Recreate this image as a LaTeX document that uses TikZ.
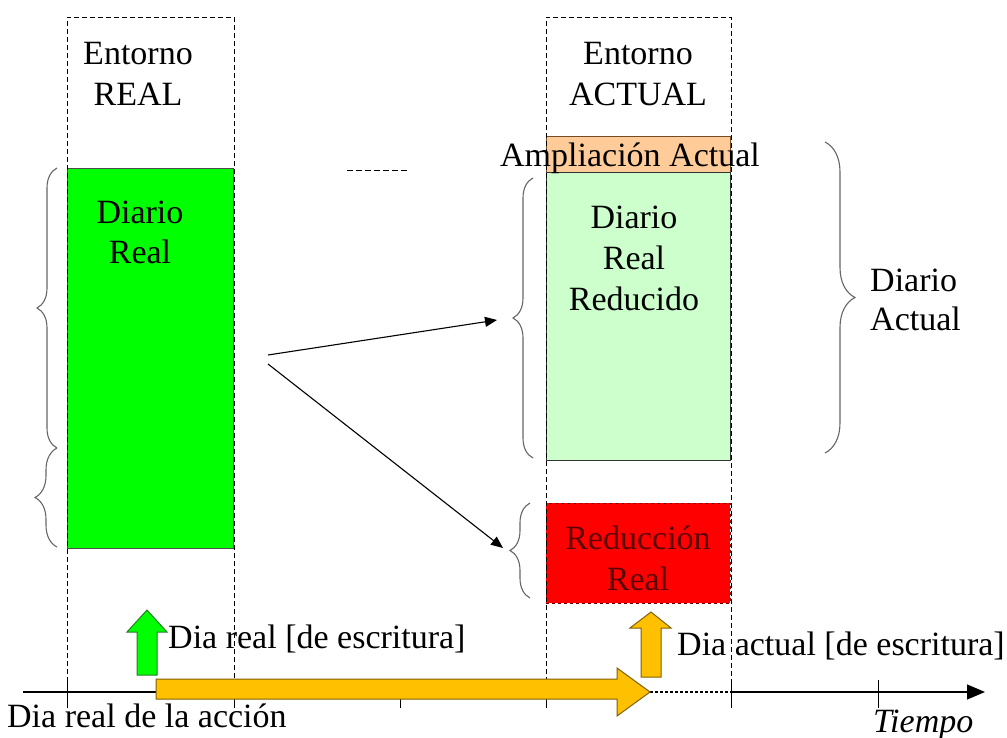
\documentclass[tikz,border=0pt]{standalone}
\usepackage{fontspec}
\usepackage{xcolor}
\setmainfont{Liberation Serif}
\usetikzlibrary{arrows.meta,decorations.pathreplacing}

\definecolor{verdereal}{HTML}{00FF00}
\definecolor{verdeclaro}{HTML}{CCFFCC}
\definecolor{naranja}{HTML}{FFCC99}
\definecolor{rojo}{HTML}{FF0000}
\definecolor{amarillo}{HTML}{FFC000}
\definecolor{bordeamarillo}{HTML}{806000}
\definecolor{bordeverde}{HTML}{208020}
\definecolor{rojooscuro}{HTML}{5A0000}

\tikzset{
  texto/.style={font=\rmfamily\fontsize{34}{41}\selectfont,align=center,inner sep=0pt},
  caja/.style={rectangle,inner sep=0pt,line width=0.8pt},
  columna/.style={dash pattern=on 5pt off 3pt,line width=0.8pt},
  llave/.style={decorate,decoration={brace,amplitude=#1},draw=black!60,line width=1.1pt},
  flecha/.style={-{Triangle[length=12pt,width=10pt]},line width=1.1pt}
}

\begin{document}
\begin{tikzpicture}[x=1pt,y=-1pt]
            \useasboundingbox (0,0) rectangle (1007,738);

            % cajas
            \node (diario) at (150,358) [caja,fill=verdereal,draw=black!70,minimum width=166pt,minimum height=380pt] {};
            \node (ampl) at (638,154) [caja,fill=naranja,draw=brown!60!black,minimum width=184pt,minimum height=36pt] {};
            \node (reducido) at (638,316) [caja,fill=verdeclaro,draw=black!80,minimum width=184pt,minimum height=288pt] {};
            \node (reduccion) at (638,553) [caja,fill=rojo,draw=red!45!black,dashed,minimum width=184pt,minimum height=100pt] {};

            % textos
            \node (entreal) at (138,74) [texto] {Entorno\\REAL};
            \node (entactual) at (638,74) [texto] {Entorno\\ACTUAL};
            \node (tdiario) at (140,232) [texto,font=\rmfamily\fontsize{34}{40}\selectfont] {Diario\\Real};
            \node (tampl) at (630,167) [texto,anchor=base] {Ampliación Actual};
            \node (treducido) at (634,258) [texto] {Diario\\Real\\Reducido};
            \node (treduccion) at (638,558) [texto,text=rojooscuro] {Reducción\\Real};
            \node (tactual) at (870,300) [texto,anchor=west,align=left,font=\rmfamily\fontsize{34}{39}\selectfont] {Diario\\Actual};
            \node (tdiareal) at (168,648) [texto,anchor=base west] {Dia real [de escritura]};
            \node (tdiaactual) at (677,655) [texto,anchor=base west] {Dia actual [de escritura]};
            \node (taccion) at (7,727) [texto,anchor=base west] {Dia real de la acción};
            \node (ttiempo) at (873,732) [texto,anchor=base west,font=\rmfamily\itshape\fontsize{34}{41}\selectfont] {Tiempo};

            % llaves
            \draw[llave=20pt] (57,448) -- (57,168);
            \draw[llave=22pt] (57,547) -- (57,448);
            \draw[llave=20pt] (533,458) -- (533,178);
            \draw[llave=20pt] (530,598) -- (530,503);
            \draw[llave=30pt] (825,142) -- (825,453);

            % flechas
            \coordinate (o1) at (268,355);
            \coordinate (d1) at (497,320);
            \coordinate (o2) at (268,364);
            \coordinate (d2) at (503,548);
            \draw[flecha] (o1) -- (d1);
            \draw[flecha] (o2) -- (d2);
            \draw[dash pattern=on 6pt off 3pt,line width=0.9pt] (347,170) -- (407,170);

            % eje del tiempo
            \draw[line width=1.2pt] (23,692) -- (650,692);
            \draw[dash pattern=on 3pt off 2pt,line width=1.2pt] (650,692) -- (731,692);
            \draw[line width=1.2pt,-{Triangle[length=18pt,width=15pt]}] (731,692) -- (985,692);
            \foreach \x in {67,234,400,546,731,878}
                \draw[line width=1pt] (\x,680) -- (\x,708);

            % columnas
            \draw[columna] (67,690) -- (67,17) -- (234,17) -- (234,690);
            \draw[columna] (546,690) -- (546,17) -- (731,17) -- (731,690);

            % flechas gruesas
            \draw[fill=amarillo,draw=bordeamarillo,line width=1pt] (156,679) -- (617,679) -- (617,668) -- (650,692) -- (617,716) -- (617,699) -- (156,699) -- cycle;
            \draw[fill=verdereal,draw=bordeverde,line width=1pt] (137,675) -- (137,632) -- (127,632) -- (147,610) -- (167,632) -- (157,632) -- (157,675) -- cycle;
            \draw[fill=amarillo,draw=bordeamarillo,line width=1pt] (641,677) -- (641,628) -- (630,628) -- (651,612) -- (671,628) -- (661,628) -- (661,677) -- cycle;
        \end{tikzpicture}
\end{document}
